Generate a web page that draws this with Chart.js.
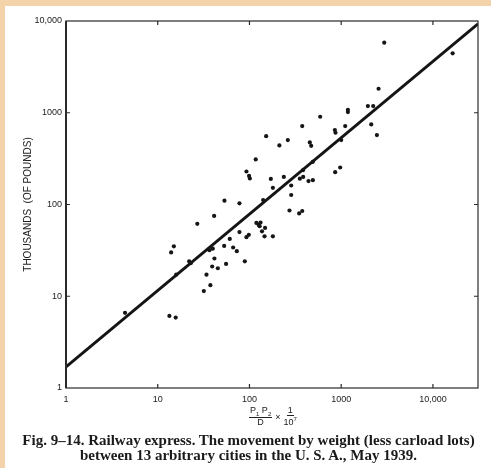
<!DOCTYPE html>
<html>
<head>
<meta charset="utf-8">
<script src="https://cdn.jsdelivr.net/npm/chart.js@4/dist/chart.umd.min.js"></script>
<style>
  body { margin: 0; background: #f4d3aa; overflow: hidden; }
  #page { position: absolute; left: 5px; top: 6px; width: 486px; height: 462px; background: #fff; }
  #c { position: absolute; left: 0; top: 0; }
  #xl { position: absolute; left: 249px; top: 406px; font: 9px "Liberation Sans"; color: #222;
        display: flex; align-items: center; gap: 3px; }
  .fr { display: inline-flex; flex-direction: column; align-items: center; line-height: 1; }
  .fr .n { border-bottom: 1px solid #222; padding: 0 1px; }
  sub, sup { font-size: 6px; }
  #cap { position: absolute; left: 6px; width: 485px; top: 433px; text-align: center;
         font: bold 15px "Liberation Serif"; line-height: 15px; color: #1a1a1a; }
</style>
</head>
<body>
<div id="page"></div>
<canvas id="c" width="491" height="468"></canvas>
<div id="xl">
  <span class="fr"><span class="n">P<sub>1</sub> P<sub>2</sub></span><span>D</span></span>
  <span>×</span>
  <span class="fr"><span class="n">1</span><span>10<sup>7</sup></span></span>
</div>
<div id="cap">Fig. 9–14. Railway express. The movement by weight (less carload lots)<br>between 13 arbitrary cities in the U. S. A., May 1939.</div>
<script>
// P1P2/D x 1/10^7 for each city pair
const xs = [4.4, 13.4, 15.7, 14, 15, 15.9, 22, 23, 27, 31.8, 34, 37.5, 36.6, 39.8, 41.2, 41.5,
  39.2, 45.2, 53.4, 53, 55.6, 61, 66.4, 72.8, 77.8, 77.8, 89, 92.7, 98.4, 92.7, 99, 101,
  117, 119, 126, 132, 129, 137, 141, 148, 146, 152, 171, 180, 180, 212, 237, 262, 273,
  285, 285, 348, 376, 376, 354, 385, 385, 440, 455, 471, 491, 491, 590, 853, 867, 860,
  975, 1000, 1106, 1183, 1183, 1954, 2234, 2125, 2450, 2555, 2946, 16400];
// thousands of pounds
const ys = [6.6, 6.1, 5.85, 30, 35, 17.2, 24, 23, 61.5, 11.4, 17.2, 13.2, 31.8, 33, 75, 25.8,
  21.1, 20.2, 110, 35.4, 22.5, 42.2, 34, 31, 103, 50, 24, 44, 46.7, 229, 205, 192,
  310, 63, 60, 63.6, 58, 51, 112, 55.6, 45, 556, 190, 152, 45, 440, 200, 504, 86,
  161, 127, 80, 85, 716, 191, 200, 237, 180, 475, 436, 184, 292, 904, 647, 605, 225,
  253, 504, 716, 1078, 1016, 1183, 1183, 746, 571, 1827, 5800, 4440];

// fitted line, read at the two ends of the plot
const lineX = [1, 31000];
const lineY = [1.7, 9300];

const xTicks = [1, 10, 100, 1000, 10000];
const yTicks = [1, 10, 100, 1000, 10000];
const tickLabel = v => (v >= 10000 ? v.toLocaleString("en-US") : String(v));

const ink = "#151515";

// box round the plot with small inward tick marks
const frame = {
  id: "frame",
  afterDraw(chart) {
    const { ctx, chartArea: a, scales } = chart;
    ctx.save();
    ctx.strokeStyle = "#2a2a2a";
    ctx.lineWidth = 1.2;
    ctx.strokeRect(a.left, a.top, a.right - a.left, a.bottom - a.top);
    ctx.lineWidth = 2;
    ctx.beginPath();
    ctx.moveTo(a.left, a.top);
    ctx.lineTo(a.left, a.bottom);
    ctx.stroke();
    ctx.lineWidth = 1.2;
    ctx.beginPath();
    xTicks.forEach(v => {
      const px = scales.x.getPixelForValue(v);
      if (px <= a.left + 1) return;
      ctx.moveTo(px, a.top); ctx.lineTo(px, a.top + 4);
      ctx.moveTo(px, a.bottom); ctx.lineTo(px, a.bottom - 4);
    });
    yTicks.forEach(v => {
      const py = scales.y.getPixelForValue(v);
      if (py <= a.top + 1 || py >= a.bottom - 1) return;
      ctx.moveTo(a.left, py); ctx.lineTo(a.left + 4, py);
      ctx.moveTo(a.right, py); ctx.lineTo(a.right - 4, py);
    });
    ctx.stroke();
    ctx.restore();
  }
};

const tickFont = { family: "Liberation Sans", size: 9 };

new Chart(document.getElementById("c"), {
  data: {
    datasets: [
      {
        type: "scatter",
        data: xs.map((x, i) => ({ x: x, y: ys[i] })),
        backgroundColor: ink,
        borderWidth: 0,
        pointRadius: 2.1,
      },
      {
        type: "line",
        data: lineX.map((x, i) => ({ x: x, y: lineY[i] })),
        borderColor: ink,
        borderWidth: 3,
        pointRadius: 0,
        fill: false,
      },
    ],
  },
  options: {
    responsive: false,
    animation: false,
    layout: { padding: { left: 0, right: 13, top: 21, bottom: 0 } },
    plugins: { legend: { display: false }, tooltip: { enabled: false } },
    scales: {
      x: {
        type: "logarithmic",
        min: 1,
        max: 31000,
        grid: { display: false, drawTicks: false },
        border: { display: false },
        afterBuildTicks: s => { s.ticks = xTicks.map(v => ({ value: v })); },
        afterFit: s => { s.height = 80; },
        ticks: { callback: v => tickLabel(v), font: tickFont, color: "#222", padding: 6, maxRotation: 0 },
      },
      y: {
        type: "logarithmic",
        min: 1,
        max: 10000,
        grid: { display: false, drawTicks: false },
        border: { display: false },
        afterBuildTicks: s => { s.ticks = yTicks.map(v => ({ value: v })); },
        afterFit: s => { s.width = 66; },
        ticks: { callback: v => tickLabel(v), font: tickFont, color: "#222", padding: 4 },
        title: {
          display: true,
          text: "THOUSANDS  (OF POUNDS)",
          font: { family: "Liberation Sans", size: 10 },
          color: "#222",
          padding: { top: 22, bottom: 0 },
        },
      },
    },
  },
  plugins: [frame],
});
</script>
</body>
</html>
